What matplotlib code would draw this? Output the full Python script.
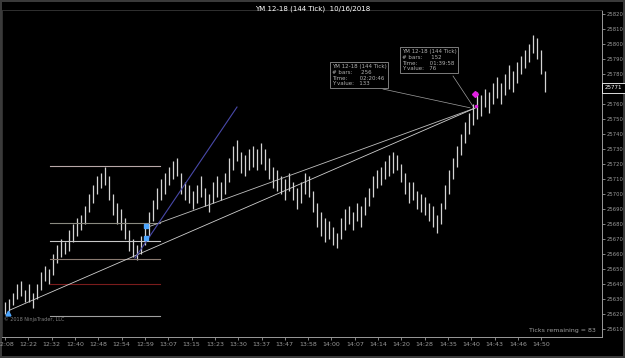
import numpy as np
import matplotlib
matplotlib.use("Agg")
import matplotlib.pyplot as plt
import matplotlib.transforms as mtransforms

# tick bars (each bar here stands for a few 144-tick bars)
highs = [25628, 25630, 25634, 25640, 25642, 25636, 25640, 25634, 25640, 25648,
         25652, 25650, 25660, 25666, 25670, 25668, 25676, 25680, 25684, 25686,
         25692, 25700, 25706, 25712, 25714, 25718, 25712, 25700, 25694, 25690,
         25684, 25676, 25670, 25666, 25672, 25678, 25688, 25696, 25704, 25710,
         25714, 25718, 25722, 25724, 25714, 25708, 25706, 25702, 25706, 25712,
         25704, 25700, 25708, 25712, 25708, 25714, 25724, 25732, 25736, 25728,
         25726, 25730, 25732, 25730, 25734, 25730, 25724, 25718, 25716, 25712,
         25710, 25714, 25708, 25704, 25708, 25714, 25712, 25702, 25694, 25688,
         25684, 25682, 25678, 25674, 25684, 25690, 25692, 25688, 25694, 25692,
         25698, 25704, 25712, 25716, 25718, 25722, 25726, 25728, 25726, 25720,
         25714, 25708, 25708, 25702, 25700, 25698, 25694, 25692, 25686, 25694,
         25706, 25716, 25724, 25732, 25740, 25748, 25754, 25760, 25768, 25766,
         25770, 25768, 25774, 25778, 25774, 25780, 25786, 25782, 25788, 25792,
         25796, 25800, 25806, 25804, 25796, 25782]
lows = [25620, 25622, 25626, 25630, 25632, 25628, 25628, 25624, 25630, 25636,
        25642, 25640, 25646, 25654, 25658, 25660, 25662, 25668, 25672, 25676,
        25680, 25688, 25694, 25700, 25704, 25706, 25696, 25686, 25680, 25676,
        25670, 25662, 25658, 25656, 25660, 25666, 25672, 25682, 25690, 25696,
        25700, 25706, 25710, 25712, 25700, 25696, 25694, 25690, 25694, 25698,
        25692, 25688, 25694, 25698, 25696, 25700, 25708, 25716, 25722, 25714,
        25712, 25716, 25718, 25716, 25720, 25716, 25710, 25704, 25702, 25700,
        25696, 25702, 25696, 25690, 25694, 25700, 25698, 25688, 25678, 25672,
        25668, 25670, 25666, 25664, 25670, 25676, 25680, 25676, 25682, 25678,
        25686, 25692, 25698, 25704, 25706, 25710, 25712, 25714, 25716, 25708,
        25700, 25694, 25696, 25690, 25688, 25686, 25682, 25678, 25674, 25680,
        25690, 25700, 25710, 25718, 25726, 25734, 25740, 25746, 25750, 25752,
        25758, 25754, 25760, 25764, 25760, 25766, 25770, 25768, 25774, 25780,
        25784, 25788, 25794, 25790, 25780, 25768]

time_labels = ["12:08", "12:22", "12:32", "12:40", "12:48", "12:54", "12:59",
               "13:07", "13:15", "13:23", "13:30", "13:37", "13:47", "13:58",
               "14:00", "14:07", "14:14", "14:20", "14:28", "14:35", "14:40",
               "14:43", "14:46", "14:50"]

fib_levels = [25719, 25681, 25669, 25657, 25640, 25619]
fib_colors = ["#b8a8a8", "#8a8a80", "#c8c8c8", "#8a7a70", "#7a1c1c", "#a0a0a0"]

last_price = 25771

box1_text = "YM 12-18 (144 Tick)\n# bars:     256\nTime:       02:20:46\nY value:   133"
box2_text = "YM 12-18 (144 Tick)\n# bars:     152\nTime:       01:39:58\nY value:   76"

fig = plt.figure(figsize=(6.25, 3.58), dpi=100, facecolor="black")
fig.patch.set_edgecolor("#3a3a3a")
fig.patch.set_linewidth(1.5)
ax = fig.add_axes([2 / 625, 21 / 358, 600 / 625, 327 / 358], facecolor="black")

x = np.arange(len(highs))
ax.vlines(x, lows, highs, color="#d4d4d4", lw=0.9)

# fibonacci style levels
for lvl, c in zip(fib_levels, fib_colors):
    ax.plot([11.25, 38.75], [lvl, lvl], color=c, lw=0.8)

# trend lines
ax.plot([1.25, 117.5], [25622.7, 25757.3], color="#d0d0d0", lw=0.6)
ax.plot([35, 117.5], [25677.3, 25757.3], color="#c0c0c0", lw=0.6)
ax.plot([32.5, 58], [25657.3, 25758], color="#4848a8", lw=0.8)
ax.plot([94.5, 116.25], [25770, 25757.5], color="#a0a0a0", lw=0.5)
ax.plot([112, 117], [25778.7, 25758.5], color="#a0a0a0", lw=0.5)

# markers
ax.plot([0.75], [25620.5], marker="^", color="#4da6ff", ms=3.5)
ax.plot([35.25, 35.25], [25670.7, 25679], "s", color="#4da6ff", ms=2.5)
ax.plot([117.5], [25766.5], "D", color="#e020e0", ms=3)
ax.plot([117.8], [25759], "o", color="#e020e0", ms=1.5)

ax.text(81.75, 25786.7, box1_text, color="#b0b0b0", fontsize=4, va="top", ha="left",
        linespacing=1.2, bbox=dict(boxstyle="square,pad=0.3", fc="black", ec="#909090", lw=0.6))
ax.text(99.25, 25796.7, box2_text, color="#b0b0b0", fontsize=4, va="top", ha="left",
        linespacing=1.2, bbox=dict(boxstyle="square,pad=0.3", fc="black", ec="#909090", lw=0.6))

ax.set_xlim(-0.75, 149.25)
ax.set_ylim(25604.7, 25822.7)

step = 5.83
ax.set_xticks(np.arange(len(time_labels)) * step)
ax.set_xticklabels(time_labels)
yt = np.arange(25610, 25821, 10)
ax.set_yticks(yt)
# the 25770 label sits under the current price flag
ax.set_yticklabels(["" if v == 25770 else str(v) for v in yt])
ax.yaxis.tick_right()
ax.tick_params(axis="both", colors="#9a9a9a", labelsize=4.5, length=2, width=0.6, pad=1.5)
ax.tick_params(axis="y", labelsize=3.8, pad=1)
for s in ax.spines.values():
    s.set_color("#9a9a9a")
    s.set_linewidth(0.7)
ax.spines["left"].set_color("#303030")
ax.spines["top"].set_color("#303030")

trans = mtransforms.blended_transform_factory(ax.transAxes, ax.transData)
ax.text(1.005, last_price, str(last_price), transform=trans, color="white", fontsize=4,
        va="center", ha="left", zorder=10, clip_on=False,
        bbox=dict(boxstyle="square,pad=0.45", fc="black", ec="white", lw=0.6))

ax.text(0.99, 0.012, "Ticks remaining = 83", transform=ax.transAxes, color="#a0a0a0",
        fontsize=4.5, ha="right", va="bottom")
ax.text(0.003, 0.045, "© 2018 NinjaTrader, LLC", transform=ax.transAxes, color="#808080",
        fontsize=3.5, ha="left", va="bottom")

fig.text(0.5, 0.985, "YM 12-18 (144 Tick)  10/16/2018", color="white", fontsize=5,
         ha="center", va="top")

fig.savefig("out.png", dpi=100, facecolor=fig.get_facecolor(), edgecolor=fig.get_edgecolor())
